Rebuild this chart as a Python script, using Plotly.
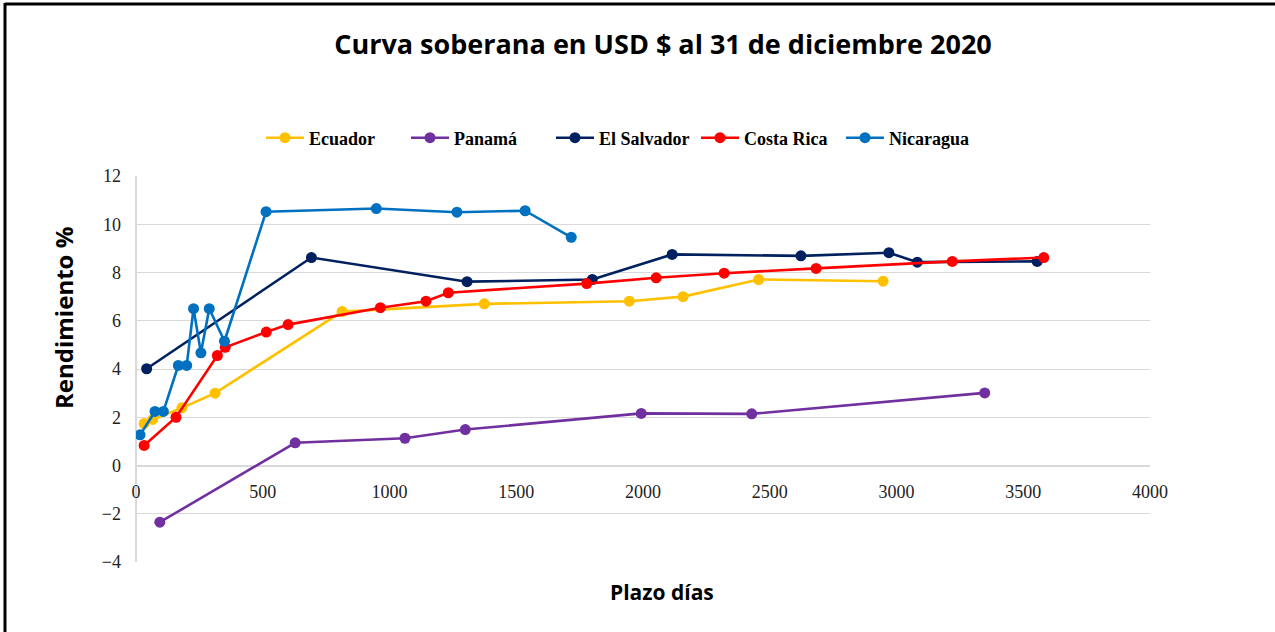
import plotly.graph_objects as go

# ---- data ----
ecuador_days = [32, 66, 181, 312, 813, 1374, 1946, 2158, 2456, 2947]
ecuador_yield = [1.74, 1.91, 2.39, 3.00, 6.38, 6.70, 6.81, 7.00, 7.71, 7.64]

panama_days = [94, 628, 1061, 1299, 1993, 2429, 3348]
panama_yield = [-2.35, 0.94, 1.13, 1.49, 2.16, 2.14, 3.01]

salvador_days = [42, 692, 1306, 1800, 2115, 2623, 2970, 3082, 3555]
salvador_yield = [4.01, 8.62, 7.62, 7.71, 8.75, 8.69, 8.82, 8.43, 8.46]

costarica_days = [32, 158, 321, 352, 514, 600, 964, 1144, 1232, 1778, 2052, 2320, 2683, 3220, 3581]
costarica_yield = [0.83, 2.00, 4.56, 4.90, 5.53, 5.84, 6.54, 6.81, 7.16, 7.54, 7.78, 7.97, 8.17, 8.46, 8.62]

nicaragua_days = [16, 75, 108, 167, 200, 227, 256, 289, 349, 513, 948, 1266, 1535, 1717]
nicaragua_yield = [1.27, 2.24, 2.24, 4.15, 4.15, 6.50, 4.67, 6.50, 5.15, 10.52, 10.65, 10.50, 10.56, 9.46]

series_names = ["Ecuador", "Panamá", "El Salvador", "Costa Rica", "Nicaragua"]
series_colors = ["#FFC000", "#7030A0", "#002060", "#FF0000", "#0070C0"]

x_ticks = [0, 500, 1000, 1500, 2000, 2500, 3000, 3500, 4000]
y_ticks = [-4, -2, 0, 2, 4, 6, 8, 10, 12]

title_text = "Curva soberana en USD $ al 31 de diciembre 2020"
x_title = "Plazo días"
y_title = "Rendimiento %"

# ---- layout geometry ----
W, H = 1275, 632
ML, MR, MT, MB = 136, 125, 176, 70
PW, PH = W - ML - MR, H - MT - MB


def px_x(p):
    return (p - ML) / PW


def px_y(p):
    return (H - MB - p) / PH


fig = go.Figure()
all_data = [
    (ecuador_days, ecuador_yield),
    (panama_days, panama_yield),
    (salvador_days, salvador_yield),
    (costarica_days, costarica_yield),
    (nicaragua_days, nicaragua_yield),
]
for (xs, ys), name, color in zip(all_data, series_names, series_colors):
    fig.add_trace(go.Scatter(
        x=xs, y=ys, name=name, mode="lines+markers",
        line=dict(color=color, width=2.6),
        marker=dict(color=color, size=11),
    ))

serif = "Liberation Serif"
sans = "Open Sans"
grid = "#D9D9D9"

fig.update_layout(
    width=W, height=H,
    margin=dict(l=ML, r=MR, t=MT, b=MB),
    paper_bgcolor="white", plot_bgcolor="white",
    title=dict(text=f"<b>{title_text}</b>", x=px_x(663), xref="paper",
               xanchor="center", y=1 - 45 / H, yanchor="middle",
               font=dict(family=sans, size=27, color="black")),
    legend=dict(orientation="h", x=px_x(261), xanchor="left",
                y=px_y(138), yanchor="middle",
                font=dict(family=serif, size=18, color="black", weight="bold"),
                itemwidth=38, tracegroupgap=0,
                entrywidth=92, entrywidthmode="pixels"),
    xaxis=dict(range=[0, 4000], tickvals=x_ticks, showgrid=False,
               zeroline=True, zerolinecolor=grid, zerolinewidth=1.5,
               showline=False, linecolor=grid, anchor="free",
               position=(0 - (-4)) / (12 - (-4)), ticks="",
               tickfont=dict(family=serif, size=18, color="#222"),
               ticklabelstandoff=13),
    yaxis=dict(range=[-4, 12], tickvals=y_ticks, showgrid=True,
               gridcolor=grid, gridwidth=1.3, zeroline=True,
               zerolinecolor=grid, zerolinewidth=1.5,
               showline=False, linecolor=grid,
               ticks="", tickfont=dict(family=serif, size=18, color="#222"),
               ticklabelstandoff=14),
    showlegend=True,
)

fig.add_annotation(text=f"<b>{y_title}</b>", xref="paper", yref="paper",
                   x=px_x(63), y=px_y(318), textangle=-90, showarrow=False,
                   font=dict(family=sans, size=24, color="black"),
                   xanchor="center", yanchor="middle")
fig.add_annotation(text=f"<b>{x_title}</b>", xref="paper", yref="paper",
                   x=px_x(662), y=px_y(592), showarrow=False,
                   font=dict(family=sans, size=21, color="black"),
                   xanchor="center", yanchor="middle")

# frame (top and left edges visible in reference)
fig.add_shape(type="line", xref="paper", yref="paper",
              x0=px_x(5), x1=px_x(W + 5), y0=px_y(4), y1=px_y(4),
              line=dict(color="black", width=3))
fig.add_shape(type="line", xref="paper", yref="paper",
              x0=px_x(5), x1=px_x(5), y0=px_y(3), y1=px_y(H + 5),
              line=dict(color="black", width=3))

fig.write_html("out.html", config={"displayModeBar": False},
               post_script="document.body.style.margin='0px';document.body.style.overflow='hidden';")
